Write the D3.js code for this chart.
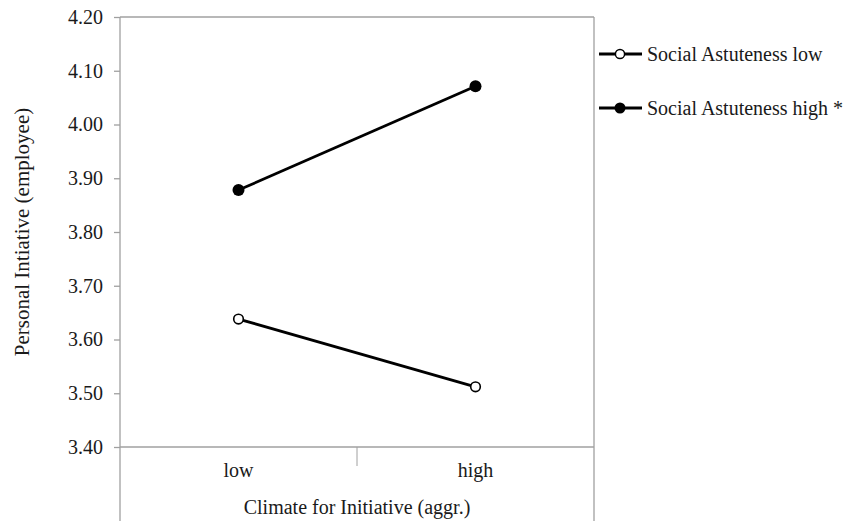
<!DOCTYPE html>
<html lang="en">
<head>
<meta charset="UTF-8">
<title>Personal Initiative interaction</title>
<script src="https://d3js.org/d3.v7.min.js"></script>
<style>
    body { margin: 0; background: #fff; }
    svg, svg text { font-family: "Times New Roman", "Liberation Serif", "DejaVu Serif", serif; }
    svg { display: block; }
</style>
</head>
<body>
<div id="chart"></div>
<script>
    // data
    var categories = ["low", "high"];
    var seriesNames = ["Social Astuteness low", "Social Astuteness high *"];
    var lowValues = [3.638, 3.512];
    var highValues = [3.878, 4.071];
    var yTicks = [3.40, 3.50, 3.60, 3.70, 3.80, 3.90, 4.00, 4.10, 4.20];

    var series = [
        {name: seriesNames[0], values: lowValues, filled: false},
        {name: seriesNames[1], values: highValues, filled: true}
    ];

    var W = 853, H = 524,
        plotL = 120, plotR = 594, plotT = 17, plotB = 447;

    var svg = d3.select("#chart").append("svg")
        .attr("width", W)
        .attr("height", H);

    var x = d3.scaleBand().domain(categories).range([plotL, plotR]);
    var y = d3.scaleLinear().domain([3.40, 4.20]).range([plotB, plotT]);

    var grey = "#a0a0a0";
    var ink = "#1a1a1a";

    // frame: top line, left and right lines running down to the bottom
    svg.append("line").attr("x1", plotL).attr("x2", plotR).attr("y1", plotT).attr("y2", plotT)
        .attr("stroke", grey).attr("stroke-width", 1.3);
    svg.append("line").attr("x1", plotL).attr("x2", plotL).attr("y1", plotT).attr("y2", 521)
        .attr("stroke", grey).attr("stroke-width", 1.3);
    svg.append("line").attr("x1", plotR).attr("x2", plotR).attr("y1", plotT).attr("y2", 521)
        .attr("stroke", grey).attr("stroke-width", 1.3);

    // y axis
    var yAxis = svg.append("g")
        .attr("transform", "translate(" + plotL + ",0)")
        .call(d3.axisLeft(y).tickValues(yTicks).tickFormat(d3.format(".2f")).tickSize(6).tickPadding(11));
    yAxis.attr("font-family", null).attr("font-size", null);
    yAxis.select(".domain").remove();
    yAxis.selectAll("line").attr("stroke", grey).attr("stroke-width", 1.3);
    yAxis.selectAll("text")
        .style("font-size", "20px").attr("fill", ink);

    // x axis line at 3.40
    svg.append("line").attr("x1", plotL).attr("x2", plotR).attr("y1", plotB).attr("y2", plotB)
        .attr("stroke", grey).attr("stroke-width", 1.3);
    // category divider
    svg.append("line")
        .attr("x1", x("high")).attr("x2", x("high"))
        .attr("y1", plotB).attr("y2", plotB + 19)
        .attr("stroke", grey).attr("stroke-width", 1);

    svg.selectAll(".cat").data(categories).enter().append("text")
        .attr("x", d => x(d) + x.bandwidth() / 2)
        .attr("y", 477)
        .attr("text-anchor", "middle")
        .style("font-size", "20px").attr("fill", ink)
        .text(d => d);

    svg.append("text")
        .attr("x", (plotL + plotR) / 2).attr("y", 514)
        .attr("text-anchor", "middle")
        .style("font-size", "20px").attr("fill", ink)
        .text("Climate for Initiative (aggr.)");

    svg.append("text")
        .attr("transform", "translate(29,232) rotate(-90)")
        .attr("text-anchor", "middle")
        .style("font-size", "21px").attr("fill", ink)
        .text("Personal Intiative (employee)");

    // lines
    var line = d3.line()
        .x((d, i) => x(categories[i]) + x.bandwidth() / 2)
        .y(d => y(d));

    svg.selectAll(".series").data(series).enter().append("path")
        .attr("d", d => line(d.values))
        .attr("fill", "none")
        .attr("stroke", "#000")
        .attr("stroke-width", 2.8);

    series.forEach(function(s) {
        svg.selectAll(null).data(s.values).enter().append("circle")
            .attr("cx", (d, i) => x(categories[i]) + x.bandwidth() / 2)
            .attr("cy", d => y(d))
            .attr("r", s.filled ? 6 : 4.8)
            .attr("fill", s.filled ? "#000" : "#fff")
            .attr("stroke", "#000")
            .attr("stroke-width", s.filled ? 0 : 1.6);
    });

    // legend
    var legend = svg.selectAll(".legend").data(series).enter().append("g")
        .attr("transform", (d, i) => "translate(599," + (54 + i * 54) + ")");
    legend.append("line")
        .attr("x1", 0).attr("x2", 43).attr("y1", 0).attr("y2", 0)
        .attr("stroke", "#000").attr("stroke-width", 2.8);
    legend.append("circle")
        .attr("cx", 21).attr("cy", 0)
        .attr("r", d => d.filled ? 5.5 : 4.6)
        .attr("fill", d => d.filled ? "#000" : "#fff")
        .attr("stroke", "#000")
        .attr("stroke-width", d => d.filled ? 0 : 1.5);
    legend.append("text")
        .attr("x", 48).attr("y", 0).attr("dy", "0.35em")
        .style("font-size", "20px").attr("fill", ink)
        .text(d => d.name);
</script>
</body>
</html>
